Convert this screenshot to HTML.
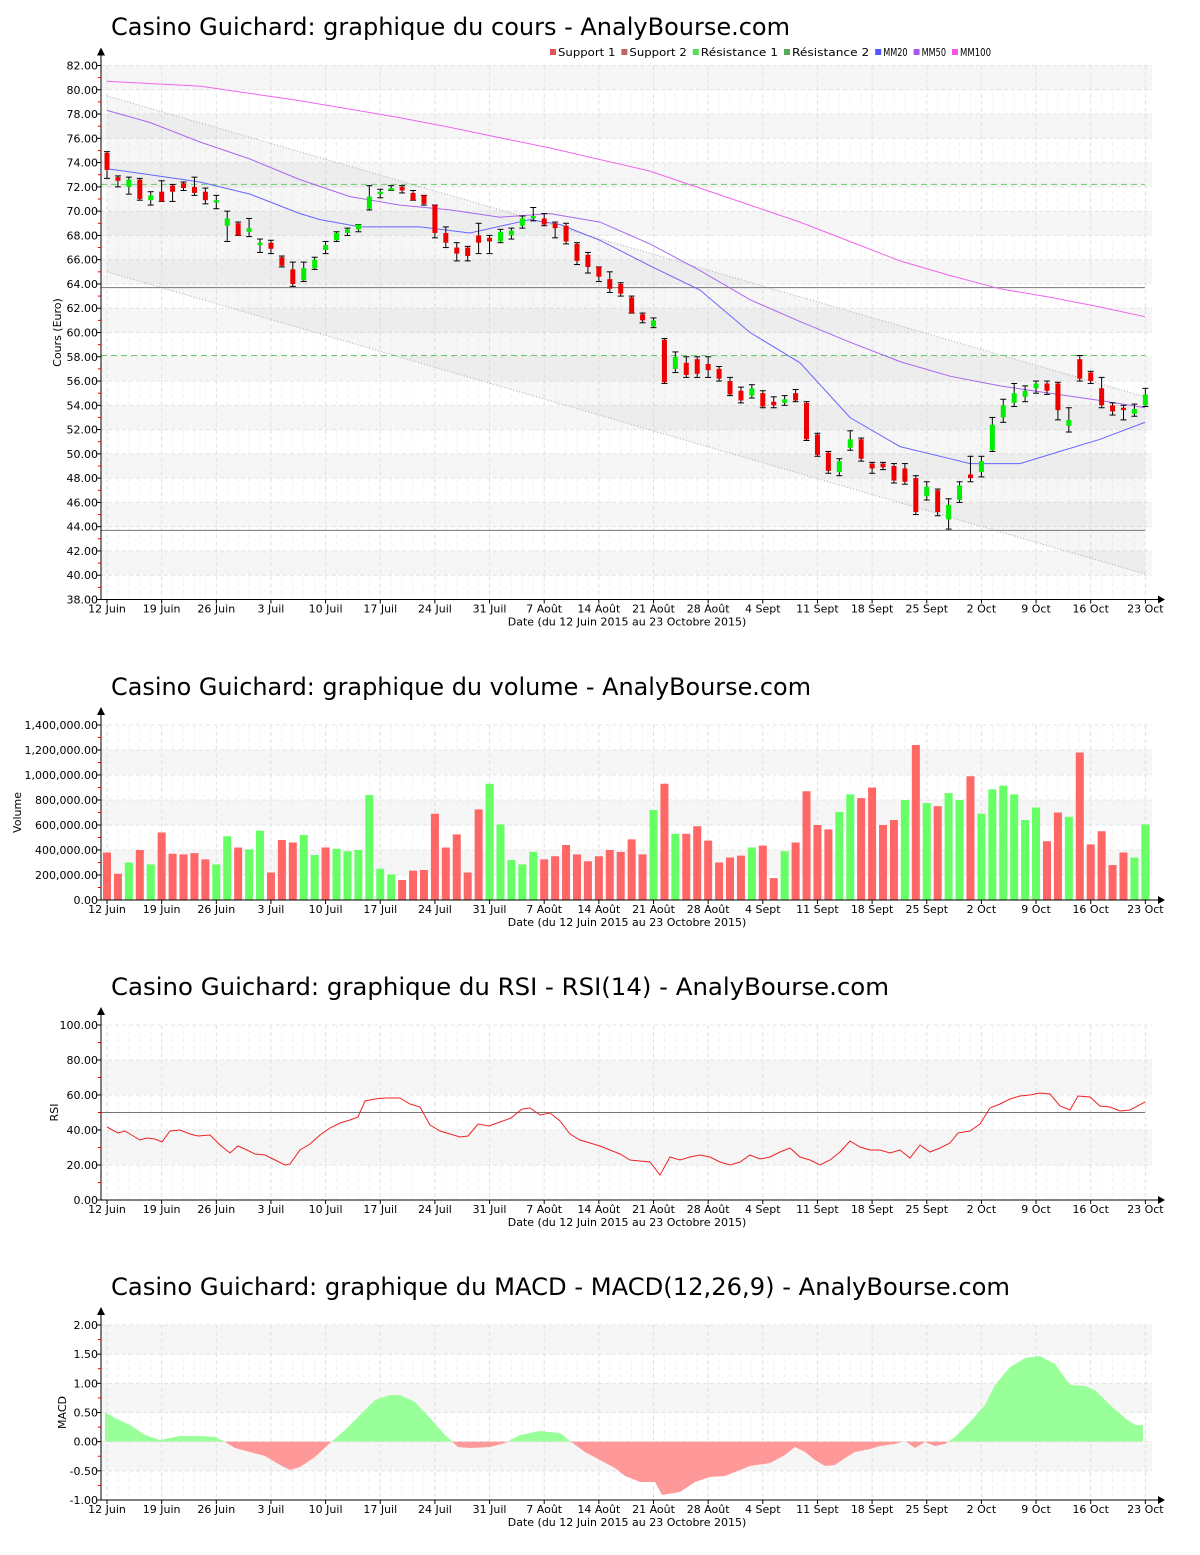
<!DOCTYPE html>
<html><head><meta charset="utf-8">
<style>
body{margin:0;background:#fff;}
svg text{font-family:"DejaVu Sans","Liberation Sans",sans-serif;}
</style></head>
<body>
<svg id="s" width="1200" height="1550" xmlns="http://www.w3.org/2000/svg"></svg>
<script>
const S=document.getElementById('s');let h='';
const X0=107,DX=10.93;
const xi=i=>X0+DX*i;
const weeks=["12 Juin","19 Juin","26 Juin","3 Juil","10 Juil","17 Juil","24 Juil","31 Juil","7 Août","14 Août","21 Août","28 Août","4 Sept","11 Sept","18 Sept","25 Sept","2 Oct","9 Oct","16 Oct","23 Oct"];
function panel(o){
 const {top,bot,min,max,step}=o; const L=101,R=1152;
 const yv=v=>bot-(v-min)/(max-min)*(bot-top);
 let n=Math.round((max-min)/step);
 for(let k=0;k<n;k++){ if(k%2==1) h+=`<rect x="${L}" y="${yv(min+(k+1)*step)}" width="${R-L}" height="${yv(min+k*step)-yv(min+(k+1)*step)}" fill="#f6f6f6"/>`; }
 for(let k=0;k<=n;k++){const y=yv(min+k*step);h+=`<line x1="${L}" x2="${R}" y1="${y}" y2="${y}" stroke="#e4e4e4" stroke-dasharray="4,3"/>`;}
 for(let w=0;w<20;w++){const x=X0+w*54.65;h+=`<line x1="${x}" x2="${x}" y1="${top}" y2="${bot}" stroke="#e0e0e0" stroke-dasharray="4,3"/>`;
  for(let d=1;d<5&&w<19;d++){const xx=x+d*DX;h+=`<line x1="${xx}" x2="${xx}" y1="${top}" y2="${bot}" stroke="#f0f0f0" stroke-dasharray="3,4"/>`;}}
 o.draw&&o.draw(yv);
 h+=`<line x1="${L}" x2="${L}" y1="${top-12}" y2="${bot}" stroke="#000"/><path d="M${L-4},${top-10} L${L},${top-18} L${L+4},${top-10}Z"/>`;
 h+=`<line x1="${L}" x2="1160" y1="${bot}" y2="${bot}" stroke="#000"/><path d="M1158,${bot-4} L1165,${bot} L1158,${bot+4}Z"/>`;
 for(let k=0;k<=n;k++){const v=min+k*step,y=yv(v);h+=`<line x1="${L-4}" x2="${L}" y1="${y}" y2="${y}" stroke="#000"/><text x="${L-3}" y="${y+4}" font-size="11" text-anchor="end">${o.fmt(v)}</text>`;
  if(k<n){const ym=(y+yv(v+step))/2;h+=`<line x1="${L-3}" x2="${L}" y1="${ym}" y2="${ym}" stroke="#d00"/>`;}}
 weeks.forEach((t,w)=>{const x=X0+w*54.65;h+=`<line x1="${x}" x2="${x}" y1="${bot}" y2="${bot+4}" stroke="#000"/><text x="${x}" y="${bot+13}" font-size="11" text-anchor="middle">${t}</text>`;});
 h+=`<text x="627" y="${bot+26}" font-size="11" text-anchor="middle">Date (du 12 Juin 2015 au 23 Octobre 2015)</text>`;
 h+=`<text x="111" y="${o.titleY}" font-size="24" textLength="${o.tl}" lengthAdjust="spacingAndGlyphs">${o.title}</text>`;
 h+=`<text transform="translate(${o.ylx},${(top+bot)/2}) rotate(-90)" font-size="11" text-anchor="middle">${o.ylabel}</text>`;
}
const f2=v=>v.toFixed(2);
const C=[[74.8,73.4,74.9,72.7],[72.8,72.5,72.9,72.0],[72.0,72.6,72.8,71.4],[72.6,71.0,72.7,70.9],[70.9,71.3,71.6,70.5],[71.6,70.8,72.5,70.8],[72.1,71.6,72.2,70.8],[72.3,71.9,72.4,71.7],[72.0,71.5,72.8,71.3],[71.6,70.9,71.9,70.6],[70.7,70.9,71.3,70.2],[68.8,69.4,70.0,67.5],[69.0,68.0,69.1,68.0],[68.3,68.6,69.4,67.9],[67.2,67.4,67.7,66.6],[67.4,66.9,67.6,66.5],
[66.2,65.5,66.3,65.4],[65.2,64.0,65.8,63.8],[64.3,65.3,65.8,64.2],[65.3,66.0,66.2,65.2],[66.8,67.2,67.5,66.5],[67.6,68.2,68.3,67.5],[68.2,68.5,68.6,68.0],[68.5,68.9,68.9,68.3],[70.2,71.2,72.1,70.1],[71.4,71.6,71.8,71.1],
[71.7,71.9,72.1,71.7],[72.0,71.7,72.1,71.5],[71.5,70.9,71.7,70.9],[71.3,70.6,71.3,70.5],[70.5,68.2,70.5,67.8],[68.2,67.4,68.7,67.0],[67.0,66.5,67.4,65.9],[67.0,66.3,67.1,65.9],[68.0,67.4,69.0,66.5],[67.8,67.5,68.0,66.5],
[67.5,68.3,68.5,67.4],[68.0,68.4,68.6,67.7],[68.8,69.4,69.6,68.6],[69.4,69.6,70.3,69.2],[69.4,68.9,69.8,68.8],[69.0,68.6,69.1,67.8],[68.8,67.5,69.0,67.3],[67.3,65.9,67.4,65.6],[66.4,65.4,66.6,64.9],[65.4,64.6,65.4,64.2],
[64.4,63.6,65.0,63.3],[64.0,63.2,64.1,63.0],[62.9,61.6,63.0,61.6],[61.5,61.0,61.6,60.8],[60.5,61.0,61.2,60.4],[59.4,55.9,59.5,55.8],[57.0,58.0,58.4,56.7],[57.5,56.5,58.0,56.3],[57.8,56.6,58.0,56.3],[57.4,56.9,58.0,56.3],
[57.0,56.2,57.2,56.0],[56.0,54.9,56.3,54.8],[55.2,54.4,55.5,54.2],[54.8,55.4,55.7,54.6],[55.0,53.9,55.2,53.8],[54.3,54.0,54.7,53.8],[54.2,54.5,54.8,54.0],[55.0,54.4,55.3,54.3],[54.2,51.2,54.3,51.1],[51.6,49.9,51.7,49.8],
[50.1,48.6,50.2,48.4],[48.5,49.4,49.6,48.2],[50.5,51.2,51.9,50.3],[51.2,49.6,51.3,49.4],[49.2,48.8,49.3,48.4],[49.2,48.9,49.3,48.7],[49.0,47.8,49.2,47.6],[48.8,47.7,49.2,47.5],[48.0,45.2,48.2,45.0],[46.5,47.3,47.7,46.2],
[47.0,45.2,47.1,44.9],[44.6,45.8,46.3,43.8],[46.2,47.4,47.7,46.0],[48.3,48.0,49.8,47.7],[48.5,49.4,49.8,48.1],[50.3,52.4,53.0,50.2],[53.0,54.0,54.5,52.6],[54.2,55.0,55.8,53.9],[54.7,55.2,55.6,54.3],[55.4,55.8,56.0,55.0],
[55.8,55.2,56.0,54.9],[55.8,53.6,55.9,52.8],[52.3,52.8,53.8,51.8],[57.8,56.2,58.1,56.0],[56.7,56.0,56.8,55.8],[55.4,54.0,56.3,53.8],[54.0,53.5,54.2,53.2],[53.8,53.6,54.0,52.8],[53.3,53.7,54.1,53.1],[54.0,54.9,55.4,53.9]];
const line=(pts,yv,col,extra)=>`<polyline fill="none" stroke="${col}" stroke-width="1" ${extra||''} points="${pts.map(p=>p[0]+','+yv(p[1]).toFixed(1)).join(' ')}"/>`;
panel({top:65.5,bot:599.5,min:38,max:82,step:2,fmt:f2,title:"Casino Guichard: graphique du cours - AnalyBourse.com",tl:679,titleY:35,ylabel:"Cours (Euro)",ylx:61,
draw(yv){
 h+=`<polygon points="${X0},${yv(79.5)} 1145,${yv(54.7)} 1145,${yv(40.1)} ${X0},${yv(65)}" fill="#888" fill-opacity="0.08"/>`;
 h+=`<line x1="${X0}" y1="${yv(79.5)}" x2="1145" y2="${yv(54.7)}" stroke="#aaa" stroke-dasharray="1,2"/>`;
 h+=`<line x1="${X0}" y1="${yv(65)}" x2="1145" y2="${yv(40.1)}" stroke="#aaa" stroke-dasharray="1,2"/>`;
 [63.7,43.7].forEach(v=>h+=`<line x1="101" x2="1145" y1="${yv(v)}" y2="${yv(v)}" stroke="#777"/>`);
 [72.2,58.1].forEach(v=>h+=`<line x1="101" x2="1145" y1="${yv(v)}" y2="${yv(v)}" stroke="#66cc66" stroke-dasharray="6,4"/>`);
 h+=line([[107,80.7],[200,80.3],[300,79.1],[400,77.7],[450,76.9],[550,75.2],[650,73.3],[700,71.9],[750,70.5],[800,69.1],[850,67.5],[900,65.9],[950,64.7],[1000,63.6],[1050,62.9],[1100,62.1],[1145,61.3]],yv,"#ee66ee");
 h+=line([[107,78.3],[150,77.3],[200,75.7],[250,74.3],[300,72.6],[350,71.2],[400,70.5],[450,70.1],[500,69.5],[550,69.8],[600,69.1],[650,67.3],[700,65.1],[750,62.7],[800,60.9],[850,59.2],[900,57.6],[950,56.4],[1000,55.6],[1050,55.0],[1100,54.4],[1145,53.8]],yv,"#aa66ee");
 h+=line([[107,73.5],[150,73.0],[200,72.4],[250,71.4],[300,69.8],[320,69.3],[360,68.7],[420,68.7],[470,68.2],[530,69.3],[560,68.9],[600,67.6],[650,65.5],[700,63.5],[750,60.0],[800,57.5],[850,53.0],[900,50.6],[950,49.6],[970,49.2],[1020,49.2],[1060,50.2],[1100,51.2],[1145,52.6]],yv,"#6666ff");
 C.forEach((c,i)=>{const x=xi(i),[o,cl,hi,lo]=c;const up=cl>=o;
  h+=`<line x1="${x}" x2="${x}" y1="${yv(hi)}" y2="${yv(lo)}" stroke="#000"/><line x1="${x-3}" x2="${x+3}" y1="${yv(hi)}" y2="${yv(hi)}" stroke="#000"/><line x1="${x-3}" x2="${x+3}" y1="${yv(lo)}" y2="${yv(lo)}" stroke="#000"/>`;
  const y1=yv(Math.max(o,cl)),y2=yv(Math.min(o,cl));
  h+=`<rect x="${x-2.5}" y="${y1}" width="5" height="${Math.max(2,y2-y1)}" fill="${up?'#00ee00':'#ee0000'}"/>`;});
 const lg=[["Support 1","#dd5555"],["Support 2","#bb6666"],["Résistance 1","#55dd55"],["Résistance 2","#55aa55"],["MM20","#5555ff"],["MM50","#aa55ee"],["MM100","#ee55ee"]];
 let lx=550;lg.forEach(([t,c])=>{h+=`<rect x="${lx}" y="49" width="6" height="6" fill="${c}"/><text x="${lx+8}" y="56" font-size="10.3" textLength="${t.length*6.6-2}" lengthAdjust="spacingAndGlyphs">${t}</text>`;lx+=8+t.length*6.6+4;});
}});
const V=[[380,0],[210,0],[300,1],[400,0],[285,1],[540,0],[370,0],[365,0],[375,0],[325,0],[285,1],[510,1],[420,0],[405,1],[555,1],[220,0],[480,0],[460,0],[520,1],[360,1],[420,0],[410,1],[390,1],[400,1],[840,1],[250,1],[205,1],[160,0],[235,0],[240,0],[690,0],[420,0],[525,0],[220,0],[725,0],[930,1],[605,1],[320,1],[285,1],[385,1],[325,0],[350,0],[440,0],[365,0],[310,0],[350,0],[400,0],[385,0],[485,0],[365,0],[720,1],[930,0],[530,1],[530,0],[590,0],[475,0],[300,0],[340,0],[355,0],[420,1],[435,0],[175,0],[390,1],[460,0],[870,0],[600,0],[565,0],[705,1],[845,1],[815,0],[900,0],[600,0],[640,0],[800,1],[1240,0],[775,1],[750,0],[855,1],[800,1],[990,0],[690,1],[885,1],[915,1],[845,1],[640,1],[740,1],[470,0],[700,0],[665,1],[1180,0],[445,0],[550,0],[280,0],[380,0],[340,1],[605,1]];
panel({top:725,bot:900,min:0,max:1400000,step:200000,fmt:v=>v.toLocaleString('en-US')+'.00',title:"Casino Guichard: graphique du volume - AnalyBourse.com",tl:700,titleY:695,ylabel:"Volume",ylx:21,
draw(yv){V.forEach((b,i)=>{const x=xi(i),y=yv(b[0]*1000);h+=`<rect x="${x-4}" y="${y}" width="8" height="${900-y}" fill="${b[1]?'#66ff66':'#ff6666'}"/>`;});}});
const R=[[107,1127],[118,1133],[125,1131],[130,1134],[140,1140],[147,1138],[155,1139],[162,1142],[170,1131],[180,1130],[190,1134],[198,1136],[210,1135],[220,1145],[230,1153],[238,1146],[247,1150],[255,1154],[265,1155],[275,1160],[285,1165],[290,1164],[300,1150],[310,1144],[320,1135],[330,1128],[340,1123],[350,1120],[358,1117],[365,1101],[375,1099],[385,1098],[400,1098],[410,1104],[420,1107],[430,1125],[440,1131],[450,1134],[460,1137],[468,1136],[478,1124],[489,1126],[500,1122],[511,1118],[522,1109],[530,1108],[540,1115],[550,1113],[560,1121],[570,1134],[580,1140],[590,1143],[600,1146],[610,1150],[620,1154],[630,1160],[640,1161],[650,1162],[660,1175],[670,1157],[680,1160],[690,1157],[700,1155],[710,1157],[720,1162],[730,1165],[740,1162],[750,1155],[760,1159],[770,1157],[780,1152],[790,1148],[800,1157],[810,1160],[820,1165],[830,1160],[840,1152],[850,1141],[860,1147],[870,1150],[880,1150],[890,1153],[900,1150],[910,1158],[920,1145],[930,1152],[940,1148],[950,1143],[958,1133],[970,1131],[980,1124],[990,1108],[1000,1104],[1010,1099],[1020,1096],[1030,1095],[1040,1093],[1050,1094],[1060,1106],[1070,1110],[1078,1096],[1090,1097],[1100,1106],[1110,1107],[1120,1111],[1130,1110],[1145,1102]];
panel({top:1025,bot:1200,min:0,max:100,step:20,fmt:f2,title:"Casino Guichard: graphique du RSI - RSI(14) - AnalyBourse.com",tl:778,titleY:995,ylabel:"RSI",ylx:58,
draw(yv){h+=`<line x1="101" x2="1145" y1="${yv(50)}" y2="${yv(50)}" stroke="#777"/>`;
 h+=`<polyline fill="none" stroke="#ee2222" points="${R.map(p=>p.join(',')).join(' ')}"/>`;}});
const M=[[105,1412],[115,1418],[130,1425],[145,1435],[160,1440],[180,1436],[200,1436],[215,1437],[225,1442],[235,1448],[250,1452],[265,1456],[280,1465],[290,1470],[300,1467],[315,1457],[330,1443],[345,1430],[360,1415],[375,1400],[390,1395],[400,1395],[415,1402],[430,1418],[445,1435],[458,1447],[470,1448],[490,1447],[505,1443],[520,1435],[540,1431],[560,1433],[570,1441],[585,1452],[600,1460],[615,1468],[625,1476],[640,1482],[655,1482],[662,1495],[680,1492],[695,1482],[710,1477],[725,1476],[740,1470],[750,1466],[770,1463],[785,1455],[795,1447],[805,1452],[815,1460],[825,1466],[835,1465],[845,1458],[855,1452],[870,1449],[880,1446],[895,1444],[905,1441],[915,1448],[925,1442],[935,1446],[945,1444],[955,1437],[970,1422],[985,1405],[995,1385],[1010,1367],[1025,1358],[1040,1356],[1055,1364],[1070,1385],[1085,1386],[1095,1390],[1110,1405],[1125,1418],[1135,1425],[1143,1425]];
panel({top:1325,bot:1500,min:-1,max:2,step:0.5,fmt:f2,title:"Casino Guichard: graphique du MACD - MACD(12,26,9) - AnalyBourse.com",tl:899,titleY:1295,ylabel:"MACD",ylx:66,
draw(yv){const z=yv(0);const pts=`105,${z} `+M.map(p=>p.join(',')).join(' ')+` 1143,${z}`;
 h+=`<defs><clipPath id="ca"><rect x="0" y="0" width="1200" height="${z}"/></clipPath><clipPath id="cb"><rect x="0" y="${z}" width="1200" height="200"/></clipPath></defs>`;
 h+=`<polygon points="${pts}" fill="#99ff99" clip-path="url(#ca)"/><polygon points="${pts}" fill="#ff9999" clip-path="url(#cb)"/>`;}});
S.innerHTML=h;
</script>
</body></html>
